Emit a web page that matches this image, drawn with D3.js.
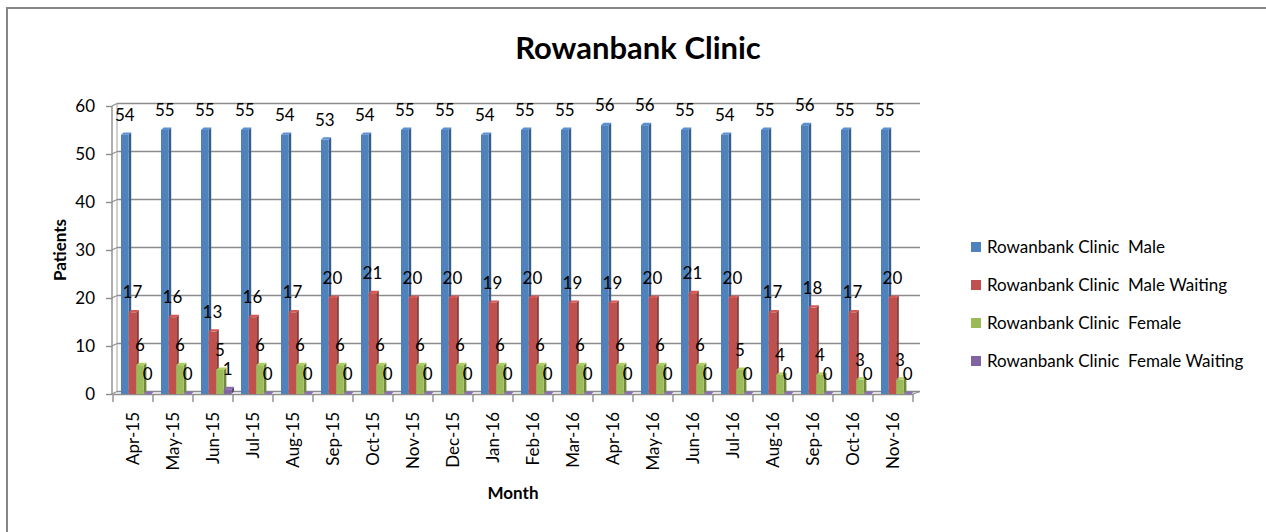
<!DOCTYPE html>
<html>
<head>
<meta charset="utf-8">
<title>Rowanbank Clinic</title>
<script src="https://cdn.jsdelivr.net/npm/d3@7"></script>
<style>
  body { margin: 0; background: #fff; overflow: hidden; }
  svg { display: block; }
  svg text { font-family: Lato, "Liberation Sans", sans-serif; fill: #000; white-space: pre; }
</style>
</head>
<body>
<svg id="chart" width="1266" height="532"></svg>
<script>
// data
var months = ["Apr-15","May-15","Jun-15","Jul-15","Aug-15","Sep-15","Oct-15","Nov-15","Dec-15","Jan-16",
              "Feb-16","Mar-16","Apr-16","May-16","Jun-16","Jul-16","Aug-16","Sep-16","Oct-16","Nov-16"];
var seriesNames = ["Rowanbank Clinic  Male", "Rowanbank Clinic  Male Waiting",
                   "Rowanbank Clinic  Female", "Rowanbank Clinic  Female Waiting"];
var male          = [54,55,55,55,54,53,54,55,55,54,55,55,56,56,55,54,55,56,55,55];
var maleWaiting   = [17,16,13,16,17,20,21,20,20,19,20,19,19,20,21,20,17,18,17,20];
var female        = [6,6,5,6,6,6,6,6,6,6,6,6,6,6,6,5,4,4,3,3];
var femaleWaiting = [0,0,1,0,0,0,0,0,0,0,0,0,0,0,0,0,0,0,0,0];
var yTicks = [0,10,20,30,40,50,60];

var colors = ["#4F81BD","#C0504D","#9BBB59","#8064A2"];
var allSeries = [male, maleWaiting, female, femaleWaiting];

var svg = d3.select("#chart");

// outer frame (only left and top edges fall inside the picture)
svg.append("rect")
  .attr("x", 7).attr("y", 8)
  .attr("width", 1280).attr("height", 540)
  .attr("fill", "none").attr("stroke", "#868686").attr("stroke-width", 2);

var x = d3.scaleBand().domain(months).range([113, 913]);
var xs = d3.scaleBand().domain(d3.range(4)).range([8, 38.4]);
var y = d3.scaleLinear().domain([0, 60]).range([394, 106]);

var dx = 5, dy = -2.5;   // depth of the back wall
var bdx = 2.6, bdy = -2.4; // depth of a bar

// back wall gridlines + little floor diagonals
var grid = svg.append("g");
yTicks.forEach(function(t) {
  grid.append("line")
    .attr("x1", 112 + dx).attr("x2", 920).attr("y1", y(t) + dy).attr("y2", y(t) + dy)
    .attr("stroke", "#8c8c8c").attr("stroke-width", 1.4);
  grid.append("line")
    .attr("x1", 112).attr("x2", 112 + dx).attr("y1", y(t)).attr("y2", y(t) + dy)
    .attr("stroke", "#8c8c8c").attr("stroke-width", 1.2);
});
grid.append("line")
  .attr("x1", 112 + dx).attr("x2", 112 + dx).attr("y1", y(0) + dy).attr("y2", y(60) + dy)
  .attr("stroke", "#a0a0a0").attr("stroke-width", 1);
// floor right edge
grid.append("line")
  .attr("x1", 913).attr("x2", 920).attr("y1", y(0)).attr("y2", y(0) + dy)
  .attr("stroke", "#8c8c8c").attr("stroke-width", 1.2);

// y axis
var yAxis = d3.axisLeft(y).tickValues(yTicks).tickSize(6).tickPadding(11);
var gy = svg.append("g").attr("transform", "translate(112,0)").call(yAxis);
gy.select(".domain").attr("stroke", "#8c8c8c").attr("stroke-width", 1.4).attr("d", "M0," + y(0) + "V" + y(60));
gy.selectAll(".tick line").attr("stroke", "#8c8c8c").attr("stroke-width", 1.4);
gy.selectAll(".tick text").style("font-size", "17px").style("font-family", "Lato, sans-serif").attr("fill", "#000");

// x axis
var xAxis = d3.axisBottom(x).tickSize(0).tickPadding(0);
var gx = svg.append("g").attr("transform", "translate(0," + y(0) + ")").call(xAxis);
gx.select(".domain").attr("stroke", "#8c8c8c").attr("stroke-width", 1.4);
gx.selectAll(".tick text")
  .style("font-size", "17px").style("font-family", "Lato, sans-serif").attr("fill", "#000")
  .attr("text-anchor", "end")
  .attr("transform", "translate(0,18) rotate(-90)")
  .attr("dy", "0.35em").attr("y", 0).attr("x", 0);
// separators between categories
var seps = months.map(function(m) { return x(m); }).concat([x.range()[1]]);
svg.append("g").selectAll("line").data(seps).enter().append("line")
  .attr("x1", function(d) { return d; }).attr("x2", function(d) { return d; })
  .attr("y1", y(0)).attr("y2", y(0) + 8)
  .attr("stroke", "#8c8c8c").attr("stroke-width", 1.4);

// bars with a little 3d look
var bars = svg.append("g");
months.forEach(function(m, i) {
  allSeries.forEach(function(vals, s) {
    var v = vals[i];
    var x0 = x(m) + xs(s), w = xs.bandwidth(), top = y(v), base = y(0);
    var c = d3.color(colors[s]);
    // side face
    bars.append("path")
      .attr("d", "M" + (x0 + w) + "," + base + "L" + (x0 + w) + "," + top +
                 "L" + (x0 + w + bdx) + "," + (top + bdy) + "L" + (x0 + w + bdx) + "," + (base + bdy) + "Z")
      .attr("fill", c.darker(0.9));
    // front
    bars.append("rect")
      .attr("x", x0).attr("y", top).attr("width", w).attr("height", base - top)
      .attr("fill", colors[s]);
    // top face
    bars.append("path")
      .attr("d", "M" + x0 + "," + top + "L" + (x0 + bdx) + "," + (top + bdy) +
                 "L" + (x0 + w + bdx) + "," + (top + bdy) + "L" + (x0 + w) + "," + top + "Z")
      .attr("fill", c.brighter(0.3));
  });
});

// value labels
var labels = svg.append("g").style("font-size", "17px");
allSeries.forEach(function(vals, s) {
  labels.selectAll(".lbl" + s).data(vals).enter().append("text")
    .attr("x", function(d, i) { return x(months[i]) + xs(s) + xs.bandwidth() / 2; })
    .attr("y", function(d) { return y(d) - 20; })
    .attr("dy", "0.35em")
    .attr("text-anchor", "middle")
    .text(function(d) { return d; });
});

// title + axis titles
svg.append("text").attr("x", 638).attr("y", 48).attr("dy", "0.35em")
  .attr("text-anchor", "middle").style("font-size", "31px").style("font-weight", "bold")
  .text("Rowanbank Clinic");
svg.append("text").attr("transform", "translate(60,250) rotate(-90)").attr("dy", "0.35em")
  .attr("text-anchor", "middle").style("font-size", "17px").style("font-weight", "bold")
  .text("Patients");
svg.append("text").attr("x", 513).attr("y", 493).attr("dy", "0.35em")
  .attr("text-anchor", "middle").style("font-size", "17px").style("font-weight", "bold")
  .text("Month");

// legend
var legendY = [247, 285, 323, 361];
var legend = svg.append("g");
seriesNames.forEach(function(n, s) {
  legend.append("rect").attr("x", 971).attr("y", legendY[s] - 5)
    .attr("width", 10).attr("height", 10).attr("fill", colors[s]);
  legend.append("text").attr("x", 987).attr("y", legendY[s]).attr("dy", "0.35em")
    .style("font-size", "17px").text(n);
});
</script>
</body>
</html>
